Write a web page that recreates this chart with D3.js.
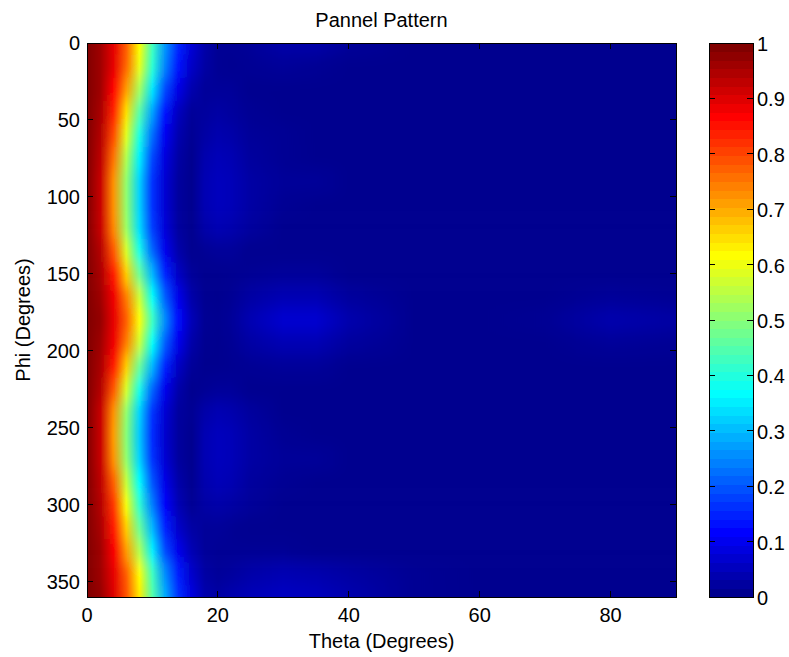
<!DOCTYPE html>
<html>
<head>
<meta charset="utf-8">
<script src="https://cdn.jsdelivr.net/npm/d3@7"></script>
<style>
body { margin: 0; background: #fff; }
text { font-family: "Liberation Sans", Arial, sans-serif; font-size: 20px; fill: #000; }
</style>
</head>
<body>
<svg id="chart" width="789" height="657"></svg>
<script>
// sample positions of the pattern
var thetaDeg = [0, 2, 4, 6, 8, 10, 12, 14, 16, 18, 20, 22, 25, 30, 35, 40, 50, 60, 70, 80, 90]
var phiDeg = [0, 15, 30, 45, 60, 75, 90, 105, 120, 135, 150, 165, 180,
              195, 210, 225, 240, 255, 270, 285, 300, 315, 330, 345, 360]

// normalised pattern, one row per phi, one column per theta
var pattern = [
    [1.00, 0.97, 0.90, 0.78, 0.62, 0.43, 0.26, 0.15, 0.07, 0.025, 0.005, 0.005, 0.01, 0.025, 0.025, 0.01, 0, 0, 0, 0, 0],
    [1.00, 0.97, 0.90, 0.77, 0.60, 0.41, 0.24, 0.13, 0.055, 0.02, 0.005, 0.002, 0.005, 0.01, 0.005, 0, 0, 0, 0, 0, 0],
    [1.00, 0.97, 0.87, 0.72, 0.53, 0.34, 0.18, 0.085, 0.03, 0.01, 0.01, 0.01, 0, 0, 0, 0, 0, 0, 0, 0, 0],
    [1.00, 0.96, 0.84, 0.65, 0.45, 0.27, 0.125, 0.045, 0.01, 0.015, 0.02, 0.015, 0.005, 0, 0, 0, 0, 0, 0, 0, 0],
    [1.00, 0.95, 0.80, 0.59, 0.39, 0.22, 0.095, 0.03, 0.005, 0.02, 0.03, 0.025, 0.01, 0.005, 0, 0, 0, 0, 0, 0, 0],
    [1.00, 0.94, 0.76, 0.54, 0.35, 0.18, 0.075, 0.02, 0, 0.03, 0.04, 0.035, 0.015, 0.005, 0, 0, 0, 0, 0, 0, 0],
    [1.00, 0.93, 0.73, 0.51, 0.32, 0.16, 0.065, 0.015, 0, 0.035, 0.045, 0.04, 0.02, 0.01, 0.01, 0, 0, 0, 0, 0, 0],
    [1.00, 0.93, 0.73, 0.51, 0.32, 0.16, 0.065, 0.015, 0, 0.035, 0.045, 0.04, 0.02, 0.005, 0, 0, 0, 0, 0, 0, 0],
    [1.00, 0.93, 0.74, 0.52, 0.33, 0.17, 0.07, 0.015, 0, 0.025, 0.035, 0.03, 0.015, 0, 0, 0, 0, 0, 0, 0, 0],
    [1.00, 0.95, 0.79, 0.58, 0.385, 0.21, 0.09, 0.025, 0, 0.005, 0.01, 0.01, 0, 0, 0, 0, 0, 0, 0, 0, 0],
    [1.00, 0.96, 0.85, 0.67, 0.47, 0.29, 0.14, 0.05, 0.01, 0, 0, 0.002, 0.005, 0.01, 0.01, 0, 0, 0, 0, 0, 0],
    [1.00, 0.97, 0.89, 0.75, 0.57, 0.37, 0.20, 0.09, 0.025, 0.002, 0, 0.005, 0.02, 0.035, 0.035, 0.015, 0, 0, 0, 0.01, 0.005],
    [1.00, 0.98, 0.90, 0.78, 0.62, 0.43, 0.25, 0.12, 0.04, 0.005, 0.002, 0.01, 0.035, 0.065, 0.065, 0.03, 0, 0, 0.005, 0.03, 0.02],
    [1.00, 0.97, 0.89, 0.75, 0.57, 0.37, 0.20, 0.09, 0.025, 0.002, 0, 0.005, 0.02, 0.035, 0.035, 0.015, 0, 0, 0, 0.01, 0.005],
    [1.00, 0.96, 0.85, 0.67, 0.47, 0.29, 0.14, 0.05, 0.01, 0, 0, 0.002, 0.005, 0.01, 0.01, 0, 0, 0, 0, 0, 0],
    [1.00, 0.95, 0.79, 0.58, 0.385, 0.21, 0.09, 0.025, 0, 0.005, 0.01, 0.01, 0, 0, 0, 0, 0, 0, 0, 0, 0],
    [1.00, 0.93, 0.73, 0.51, 0.32, 0.16, 0.065, 0.015, 0.005, 0.025, 0.035, 0.03, 0.015, 0, 0, 0, 0, 0, 0, 0, 0],
    [1.00, 0.93, 0.72, 0.50, 0.31, 0.155, 0.06, 0.015, 0, 0.035, 0.045, 0.04, 0.02, 0.005, 0, 0, 0, 0, 0, 0, 0],
    [1.00, 0.93, 0.73, 0.51, 0.32, 0.16, 0.065, 0.015, 0, 0.035, 0.045, 0.04, 0.02, 0.01, 0.01, 0, 0, 0, 0, 0, 0],
    [1.00, 0.94, 0.78, 0.56, 0.365, 0.195, 0.085, 0.025, 0.002, 0.03, 0.04, 0.035, 0.015, 0.005, 0, 0, 0, 0, 0, 0, 0],
    [1.00, 0.95, 0.82, 0.61, 0.41, 0.235, 0.105, 0.035, 0.005, 0.02, 0.025, 0.02, 0.01, 0, 0, 0, 0, 0, 0, 0, 0],
    [1.00, 0.96, 0.85, 0.67, 0.47, 0.29, 0.14, 0.055, 0.02, 0.01, 0.01, 0.005, 0, 0, 0, 0, 0, 0, 0, 0, 0],
    [1.00, 0.97, 0.88, 0.72, 0.54, 0.35, 0.18, 0.09, 0.035, 0.01, 0.005, 0.005, 0.005, 0.005, 0, 0, 0, 0, 0, 0, 0],
    [1.00, 0.97, 0.90, 0.78, 0.62, 0.43, 0.25, 0.14, 0.06, 0.02, 0.01, 0.015, 0.025, 0.035, 0.03, 0.02, 0.005, 0, 0, 0, 0],
    [1.00, 0.98, 0.91, 0.79, 0.64, 0.45, 0.28, 0.16, 0.08, 0.03, 0.02, 0.03, 0.04, 0.05, 0.045, 0.03, 0.005, 0, 0, 0, 0]
]

var xTicks = [0, 20, 40, 60, 80]
var yTicks = [0, 50, 100, 150, 200, 250, 300, 350]
var cbTicks = [0, 0.1, 0.2, 0.3, 0.4, 0.5, 0.6, 0.7, 0.8, 0.9, 1]

var svg = d3.select("#chart")

var x = d3.scaleLinear().domain([0, 90]).range([87, 676])
var y = d3.scaleLinear().domain([0, 360]).range([43, 597])
var cb = d3.scaleLinear().domain([0, 1]).range([597, 43])
var cbLeft = 709, cbRight = 753

// matlab jet(64), continuous between the table entries
function jetU(t)
{
    if(t <= 0) return 0
    if(t < 16) return t / 16
    if(t <= 32) return 1
    if(t < 48) return (48 - t) / 16
    return 0
}

function jet(v)
{
    v = Math.max(0, Math.min(1, v))
    var p = v * 63 + 1
    return d3.rgb(255 * jetU(p - 24), 255 * jetU(p - 8), 255 * jetU(p + 8)).toString()
}

var defs = svg.append("defs")

defs.append("clipPath").attr("id", "plotClip")
    .append("rect")
    .attr("x", x(0)).attr("y", y(0))
    .attr("width", x(90) - x(0)).attr("height", y(360) - y(0))

defs.append("filter")
    .attr("id", "smooth")
    .attr("filterUnits", "userSpaceOnUse")
    .attr("x", 0).attr("y", 0).attr("width", 789).attr("height", 657)
    .append("feGaussianBlur")
    .attr("stdDeviation", "0 8")

// one horizontal gradient per phi row
phiDeg.forEach(function(phi, i)
{
    var grad = defs.append("linearGradient")
        .attr("id", "row" + i)
        .attr("gradientUnits", "userSpaceOnUse")
        .attr("x1", x(0)).attr("x2", x(90))
        .attr("y1", 0).attr("y2", 0)
    thetaDeg.forEach(function(t, j)
    {
        grad.append("stop")
            .attr("offset", (x(t) - x(0)) / (x(90) - x(0)))
            .attr("stop-color", jet(pattern[i][j]))
    })
})

var heat = svg.append("g").attr("clip-path", "url(#plotClip)")
    .append("g").attr("filter", "url(#smooth)")

heat.selectAll("rect")
    .data(phiDeg)
    .enter()
    .append("rect")
    .attr("x", x(0))
    .attr("width", x(90) - x(0))
    .attr("y", function(d, i){ return i == 0 ? y(0) - 40 : y(d - 7.5) })
    .attr("height", function(d, i)
    {
        var top = i == 0 ? y(0) - 40 : y(d - 7.5)
        var bot = i == phiDeg.length - 1 ? y(360) + 40 : y(d + 7.5)
        return bot - top + 0.5
    })
    .attr("fill", function(d, i){ return "url(#row" + i + ")" })

// axes box and inward ticks
var axes = svg.append("g").attr("stroke", "#000").attr("shape-rendering", "crispEdges")

axes.append("rect")
    .attr("x", x(0)).attr("y", y(0))
    .attr("width", x(90) - x(0)).attr("height", y(360) - y(0))
    .attr("fill", "none")

xTicks.forEach(function(t)
{
    axes.append("line").attr("x1", x(t)).attr("x2", x(t)).attr("y1", y(360)).attr("y2", y(360) - 6)
    axes.append("line").attr("x1", x(t)).attr("x2", x(t)).attr("y1", y(0)).attr("y2", y(0) + 6)
})
yTicks.forEach(function(t)
{
    axes.append("line").attr("x1", x(0)).attr("x2", x(0) + 6).attr("y1", y(t)).attr("y2", y(t))
    axes.append("line").attr("x1", x(90)).attr("x2", x(90) - 6).attr("y1", y(t)).attr("y2", y(t))
})

svg.append("g").selectAll("text")
    .data(xTicks)
    .enter()
    .append("text")
    .attr("x", function(d){ return x(d) })
    .attr("y", 622)
    .attr("text-anchor", "middle")
    .text(function(d){ return d })

svg.append("g").selectAll("text")
    .data(yTicks)
    .enter()
    .append("text")
    .attr("x", 80)
    .attr("y", function(d){ return y(d) + 7 })
    .attr("text-anchor", "end")
    .text(function(d){ return d })

svg.append("text")
    .attr("x", (x(0) + x(90)) / 2)
    .attr("y", 27)
    .attr("text-anchor", "middle")
    .text("Pannel Pattern")

svg.append("text")
    .attr("x", (x(0) + x(90)) / 2)
    .attr("y", 648)
    .attr("text-anchor", "middle")
    .text("Theta (Degrees)")

svg.append("text")
    .attr("transform", "translate(30," + ((y(0) + y(360)) / 2) + ") rotate(-90)")
    .attr("text-anchor", "middle")
    .text("Phi (Degrees)")

// colorbar, 64 bands like the matlab colormap
var bands = d3.range(64)
svg.append("g").selectAll("rect")
    .data(bands)
    .enter()
    .append("rect")
    .attr("x", cbLeft)
    .attr("width", cbRight - cbLeft)
    .attr("y", function(k){ return cb((k + 1) / 64) })
    .attr("height", function(k){ return cb(k / 64) - cb((k + 1) / 64) + 0.5 })
    .attr("fill", function(k){ return jet(k / 63) })
    .attr("shape-rendering", "crispEdges")

var cbAxis = svg.append("g").attr("stroke", "#000").attr("shape-rendering", "crispEdges")
cbAxis.append("rect")
    .attr("x", cbLeft).attr("y", cb(1))
    .attr("width", cbRight - cbLeft).attr("height", cb(0) - cb(1))
    .attr("fill", "none")
cbTicks.forEach(function(t)
{
    cbAxis.append("line").attr("x1", cbLeft).attr("x2", cbLeft + 6).attr("y1", cb(t)).attr("y2", cb(t))
    cbAxis.append("line").attr("x1", cbRight).attr("x2", cbRight - 6).attr("y1", cb(t)).attr("y2", cb(t))
})

svg.append("g").selectAll("text")
    .data(cbTicks)
    .enter()
    .append("text")
    .attr("x", 757)
    .attr("y", function(d){ return cb(d) + 8 })
    .text(function(d){ return d })
</script>
</body>
</html>
